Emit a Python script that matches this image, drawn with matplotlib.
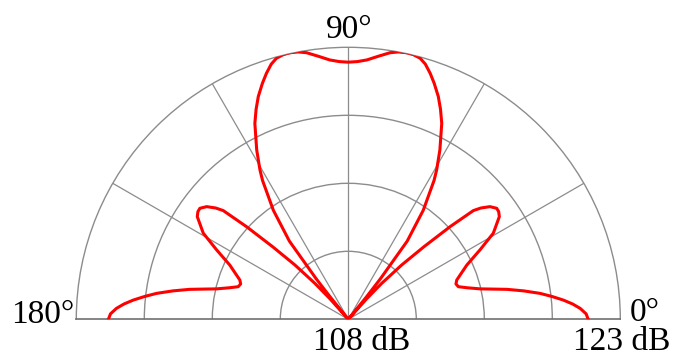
import matplotlib
matplotlib.use('Agg')
import matplotlib.pyplot as plt
import numpy as np

# directivity pattern, level in dB vs angle in degrees (0 = right, 180 = left)
angle_deg = [
    0.0, 1.3, 2.7, 3.9, 5.1, 6.4, 7.7, 9.2, 10.7, 13.0, 14.8, 16.5, 18.2, 19.9,
    22.0, 24.6, 27.8, 30.7, 34.2, 35.6, 36.8, 38.5, 40.0, 41.0, 42.3, 43.8,
    45.5, 47.1, 48.2, 49.0, 50.2, 51.0, 51.6, 53.0, 55.5, 58.3, 59.4, 61.6,
    64.5, 66.3, 68.0, 70.0, 71.6, 73.2, 74.6, 76.2, 77.6, 79.4, 81.1, 83.5,
    85.9, 88.0, 90.0,
    92.0, 94.1, 96.5, 98.9, 100.6, 102.4, 103.8, 105.4, 106.8, 108.4, 110.0,
    112.0, 113.7, 115.5, 118.4, 120.6, 121.7, 124.5, 127.0, 128.4, 129.0, 129.8,
    131.0, 131.8, 132.9, 134.5, 136.2, 137.7, 139.0, 140.0, 141.5, 143.2, 144.4,
    145.8, 149.3, 152.2, 155.4, 158.0, 160.1, 161.8, 163.5, 165.2, 167.0, 169.3,
    170.8, 172.3, 173.6, 174.9, 176.1, 177.3, 178.7, 180.0,
]
level_db = [
    121.23, 121.12, 120.80, 120.40, 119.91, 119.30, 118.67, 117.80, 116.90,
    115.46, 114.80, 114.33, 114.25, 114.36, 114.70, 115.19, 116.21, 117.30,
    118.07, 118.20, 118.22, 117.98, 117.55, 117.14, 115.59, 113.79, 112.20,
    110.70, 109.50, 108.00, 108.00, 109.60, 110.85, 113.40, 115.30, 117.00,
    117.57, 118.62, 119.97, 120.65, 121.25, 121.85, 122.30, 122.70, 122.93,
    123.03, 123.05, 123.00, 122.88, 122.60, 122.34, 122.22, 122.18,
    122.22, 122.34, 122.60, 122.88, 123.00, 123.05, 123.03, 122.93, 122.70,
    122.30, 121.85, 121.25, 120.65, 119.97, 118.62, 117.57, 117.00, 115.30,
    113.40, 110.85, 109.60, 108.00, 108.00, 109.50, 110.70, 112.20, 113.79,
    115.59, 117.14, 117.55, 117.98, 118.22, 118.20, 118.07, 117.30, 116.21,
    115.19, 114.70, 114.36, 114.25, 114.33, 114.80, 115.46, 116.90, 117.80,
    118.67, 119.30, 119.91, 120.40, 120.80, 121.12, 121.23,
]

r_min, r_max = 108, 123
ring_levels = [111.75, 115.5, 119.25]
spoke_deg = [30, 60, 90, 120, 150]

GRID = '#8c8c8c'
SERIF = ['Liberation Serif', 'DejaVu Serif']

W, H = 674, 357
cx, cy, R = 348.3, 319.3, 272.0  # plot centre and radius in pixels

fig = plt.figure(figsize=(W / 100, H / 100), dpi=100)
# a half-circle polar axes keeps its wedge in the middle half of a square box
side = 2 * R
left = (cx - R) / W
bottom = (H - (cy + 0.25 * side)) / H
ax = fig.add_axes([left, bottom, side / W, side / H], projection='polar')
ax.set_thetamin(0)
ax.set_thetamax(180)
ax.set_rlim(r_min, r_max)

ax.set_xticks(np.deg2rad(spoke_deg))
ax.set_xticklabels([])
ax.set_yticks(ring_levels)
ax.set_yticklabels([])
ax.tick_params(length=0)
ax.xaxis.grid(True, color=GRID, linewidth=0.9, linestyle='-')
ax.yaxis.grid(True, color=GRID, linewidth=1.0, linestyle='-')
ax.spines['polar'].set_color(GRID)
ax.spines['polar'].set_linewidth(1.0)
for side_name in ('start', 'end'):
    ax.spines[side_name].set_color('#707070')
    ax.spines[side_name].set_linewidth(1.2)
ax.spines['inner'].set_visible(False)

ax.plot(np.deg2rad(angle_deg), level_db, color='#ff0000', linewidth=2.2,
        solid_joinstyle='round', zorder=5)


def px_offset(dx, dy):
    # offsets given in pixels, converted to points
    return (dx * 0.72, dy * 0.72)


labels = [
    ('90°', (np.pi / 2, r_max), px_offset(1, 9.5), 'center'),
    ('180°', (np.pi, r_max), px_offset(-2, -3.5), 'right'),
    ('0°', (0, r_max), px_offset(9, -2), 'left'),
    ('108 dB', (0, r_min), px_offset(13, -30.5), 'center'),
    ('123 dB', (0, r_max), px_offset(1, -30.5), 'center'),
]
for text, xy, offset, ha in labels:
    ax.annotate(text, xy=xy, xytext=offset, textcoords='offset points',
                ha=ha, va='baseline', fontsize=24, family=SERIF,
                color='black', annotation_clip=False)

fig.savefig('out.png', dpi=100, facecolor='white')
